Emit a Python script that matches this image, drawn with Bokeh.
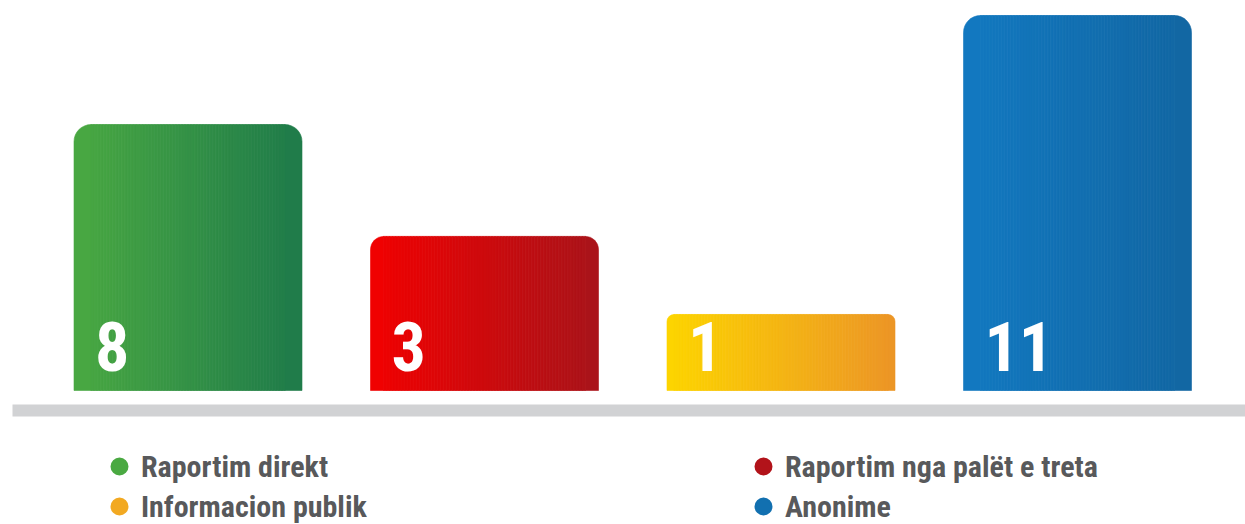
import numpy as np
from bokeh.plotting import figure
from bokeh.models import Legend, LegendItem, BoxAnnotation, Range1d
from bokeh.core.properties import value
from bokeh.embed import file_html
from bokeh.resources import INLINE

# ---- data ----
categories = ["Raportim direkt", "Raportim nga palët e treta", "Informacion publik", "Anonime"]
counts = [8, 3, 1, 11]
# displayed bar heights (the source chart is not drawn to scale)
bar_heights = [7.8, 4.52, 2.23, 11.0]
left_colors = ["#4aa942", "#f20000", "#fdd500", "#1279c1"]
right_colors = ["#1e7a4a", "#a8141a", "#ec9526", "#1266a2"]
legend_colors = ["#4aa942", "#b2131a", "#f2a922", "#1270b0"]
corner_radius = [17, 13, 7, 17]
legend_order = [0, 2, 1, 3]

# ---- layout constants ----
W, H = 1245, 524
PX_X = 296.5            # pixels per category step
X0_PX = 187.5           # pixel centre of first bar
PX_Y = 375.0 / 11.0     # pixels per height unit
BASE_PX = 390.0         # pixel row of the baseline
BAR_W_PX = 228.0
FONT = "Roboto Condensed, Liberation Sans Narrow, Lato, sans-serif"

p = figure(width=W, height=H, output_backend="svg", toolbar_location=None,
           x_axis_location=None, y_axis_location=None, min_border=0,
           x_range=Range1d(-X0_PX / PX_X, (W - X0_PX) / PX_X),
           y_range=Range1d(-(H - BASE_PX) / PX_Y, BASE_PX / PX_Y))
p.outline_line_color = None
p.grid.visible = False
p.background_fill_color = "white"
p.border_fill_color = "white"


def hex2rgb(h):
    h = h.lstrip("#")
    return np.array([int(h[i:i + 2], 16) for i in (0, 2, 4)], dtype=float)


def mix(c0, c1, t):
    c = hex2rgb(c0) * (1 - t) + hex2rgb(c1) * t
    return "#%02x%02x%02x" % tuple(int(round(v)) for v in c)


bw = BAR_W_PX / PX_X
for i, (h, c0, c1, r) in enumerate(zip(bar_heights, left_colors, right_colors, corner_radius)):
    left = i - bw / 2
    right = i + bw / 2
    rd = r / PX_X
    # left rounded edge
    cl = mix(c0, c1, (r / 2) / BAR_W_PX)
    p.quad(left=[left], right=[left + rd], bottom=[0], top=[h], fill_color=cl,
           line_color=cl, line_width=0.6, border_radius=(r, 0, 0, 0))
    # right rounded edge
    cr = mix(c0, c1, 1 - (r / 2) / BAR_W_PX)
    p.quad(left=[right - rd], right=[right], bottom=[0], top=[h], fill_color=cr,
           line_color=cr, line_width=0.6, border_radius=(0, r, 0, 0))
    # gradient middle
    n = int((BAR_W_PX - 2 * r) / 3)
    edges = np.linspace(left + rd, right - rd, n + 1)
    mids = (edges[:-1] + edges[1:]) / 2
    ts = (mids - left) / bw
    cols = [mix(c0, c1, t) for t in ts]
    p.quad(left=edges[:-1], right=edges[1:], bottom=0, top=h, fill_color=cols,
           line_color=cols, line_width=0.8)

# value labels
p.text(x=[i - bw / 2 for i in range(len(counts))], y=[0] * len(counts),
       text=[str(c) for c in counts], x_offset=21, y_offset=-44,
       text_align="left", text_baseline="alphabetic", text_color="white",
       text_font=value(FONT), text_font_style="bold", text_font_size="68px")

# grey base band
p.add_layout(BoxAnnotation(left=-X0_PX / PX_X + 12 / PX_X, bottom=-26 / PX_Y, top=-14 / PX_Y,
                           fill_color="#d1d2d4", fill_alpha=1, line_color=None))

# legend
items = []
for k in legend_order:
    rr = p.scatter(x=[np.nan], y=[np.nan], marker="circle", fill_color=legend_colors[k],
                   line_color=legend_colors[k], line_width=2)
    items.append(LegendItem(label=categories[k], renderers=[rr]))

leg = Legend(items=items, ncols=2, location=(99, -2),
             glyph_width=40, glyph_height=40, label_height=40, label_standoff=2,
             label_width=602, spacing=0, padding=0, margin=0,
             border_line_color=None, background_fill_alpha=0,
             label_text_font=FONT, label_text_font_style="bold",
             label_text_font_size="30px", label_text_color="#58595b")
p.add_layout(leg)

open("out.html", "w").write(file_html(p, INLINE))
